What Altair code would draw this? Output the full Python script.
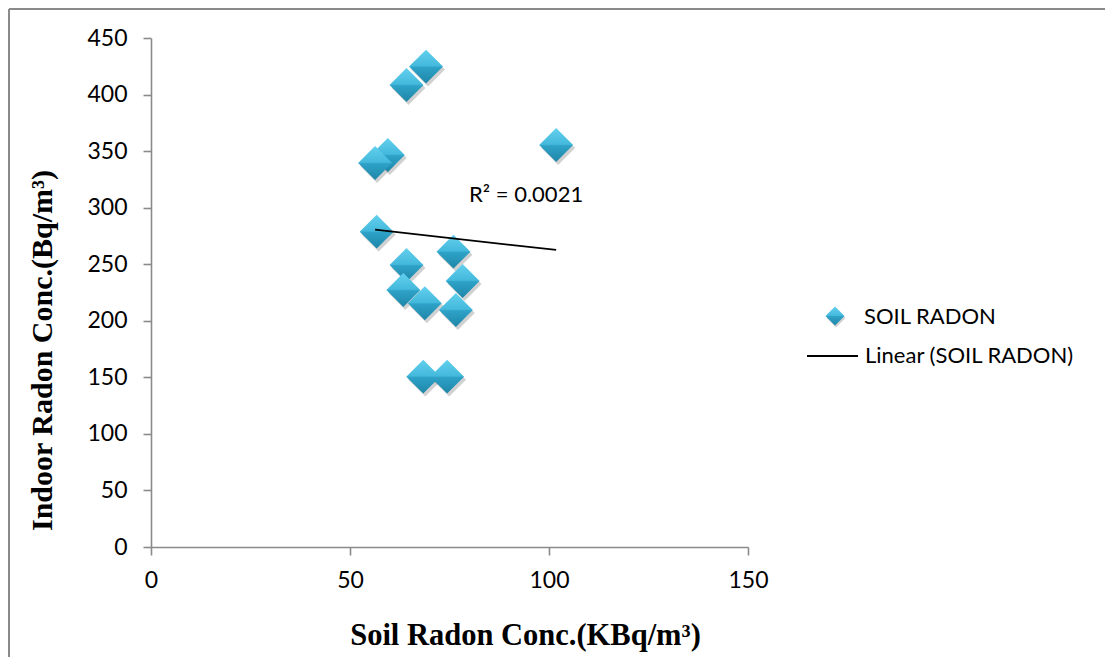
import altair as alt
import pandas as pd

# ---- data ----
soil = [69.1, 64.2, 59.5, 56.3, 101.8, 56.7, 76.0, 64.2, 78.3, 63.4, 68.8, 76.6, 68.4, 74.4]
indoor = [424.7, 408.5, 346.6, 339.5, 355.4, 278.8, 261.1, 249.3, 235.2, 227.2, 215.5, 209.5, 150.6, 150.6]
x_ticks = [0, 50, 100, 150]
y_ticks = [0, 50, 100, 150, 200, 250, 300, 350, 400, 450]
series_name = "SOIL RADON"
trend_name = "Linear (SOIL RADON)"
r2_label = "R² = 0.0021"
x_title = "Soil Radon Conc.(KBq/m³)"
y_title = "Indoor Radon Conc.(Bq/m³)"

df = pd.DataFrame({"soil": soil, "indoor": indoor})
one = pd.DataFrame({"k": [0]})

W, H = 597, 509
LABEL_FONT = "Lato"
TITLE_FONT = "Liberation Serif"
AXIS_GREY = "#8a8a8a"

grad = alt.LinearGradient(
    gradient="linear",
    stops=[
        alt.GradientStop(color="#63d0ee", offset=0),
        alt.GradientStop(color="#44b9dc", offset=0.48),
        alt.GradientStop(color="#2ea2c7", offset=0.52),
        alt.GradientStop(color="#1e86a8", offset=1),
    ],
    x1=0, x2=0, y1=0, y2=1,
)

x_enc = alt.X(
    "soil:Q",
    scale=alt.Scale(domain=[0, 150], nice=False, zero=True),
    axis=alt.Axis(
        values=x_ticks, title=x_title, grid=False, labelFlush=False,
        domainColor=AXIS_GREY, domainWidth=1.6, tickColor=AXIS_GREY, tickWidth=1.6, tickSize=8,
        labelFont=LABEL_FONT, labelFontSize=23, labelColor="#000000", labelPadding=14,
        titleFont=TITLE_FONT, titleFontSize=30.5, titleFontWeight="bold", titleColor="#000000",
        titleX=374, titleY=88, titleAlign="center", titleBaseline="middle",
    ),
)
y_enc = alt.Y(
    "indoor:Q",
    scale=alt.Scale(domain=[0, 450], nice=False, zero=True),
    axis=alt.Axis(
        values=y_ticks, title=y_title, grid=False, labelFlush=False,
        domainColor=AXIS_GREY, domainWidth=1.6, tickColor=AXIS_GREY, tickWidth=1.6, tickSize=8,
        labelFont=LABEL_FONT, labelFontSize=23, labelColor="#000000", labelPadding=16,
        titleFont=TITLE_FONT, titleFontSize=30, titleFontWeight="bold", titleColor="#000000",
        titleX=-109, titleY=312, titleAngle=270, titleAlign="center", titleBaseline="middle",
    ),
)

border_top = alt.Chart(one).mark_rule(color="#8a8a8a", strokeWidth=2, clip=False).encode(
    x=alt.value(-142), x2=alt.value(1000), y=alt.value(-29)
)
border_left = alt.Chart(one).mark_rule(color="#8a8a8a", strokeWidth=2, clip=False).encode(
    x=alt.value(-142), y=alt.value(-29), y2=alt.value(700)
)

shadow = alt.Chart(df).mark_point(
    shape="diamond", filled=True, color="#000000", opacity=0.18, size=1150,
    xOffset=2, yOffset=3,
).encode(x=x_enc, y=y_enc)

points = alt.Chart(df).mark_point(
    shape="diamond", filled=True, fill=grad, strokeWidth=0, opacity=1, size=1150,
).encode(x=x_enc, y=y_enc)

trend = alt.Chart(df).transform_regression("soil", "indoor", method="linear").mark_line(
    color="#000000", strokeWidth=1.8
).encode(x=x_enc, y=y_enc)

r2 = alt.Chart(one).mark_text(
    text=r2_label, font=LABEL_FONT, fontSize=22, align="left", baseline="middle", color="#000000"
).encode(x=alt.value(318), y=alt.value(157))

leg_shadow = alt.Chart(one).mark_point(
    shape="diamond", filled=True, color="#000000", opacity=0.18, size=360, xOffset=1, yOffset=2
).encode(x=alt.value(684), y=alt.value(278))
leg_diamond = alt.Chart(one).mark_point(
    shape="diamond", filled=True, fill=grad, strokeWidth=0, opacity=1, size=360
).encode(x=alt.value(684), y=alt.value(278))
leg_text1 = alt.Chart(one).mark_text(
    text=series_name, font=LABEL_FONT, fontSize=22, align="left", baseline="middle", color="#000000"
).encode(x=alt.value(713), y=alt.value(279))
leg_line = alt.Chart(one).mark_rule(color="#000000", strokeWidth=1.8).encode(
    x=alt.value(656), x2=alt.value(707), y=alt.value(318)
)
leg_text2 = alt.Chart(one).mark_text(
    text=trend_name, font=LABEL_FONT, fontSize=22, align="left", baseline="middle", color="#000000"
).encode(x=alt.value(714), y=alt.value(318))

chart = alt.layer(
    border_top, border_left, shadow, points, trend, r2,
    leg_shadow, leg_diamond, leg_text1, leg_line, leg_text2
).properties(
    width=W, height=H,
    autosize=alt.AutoSizeParams(type="none"),
    padding={"left": 143, "top": 30, "right": 357, "bottom": 110},
    background="#ffffff",
).configure_view(stroke=None)

chart.save("out.html", embed_options={"renderer": "svg", "actions": False})
